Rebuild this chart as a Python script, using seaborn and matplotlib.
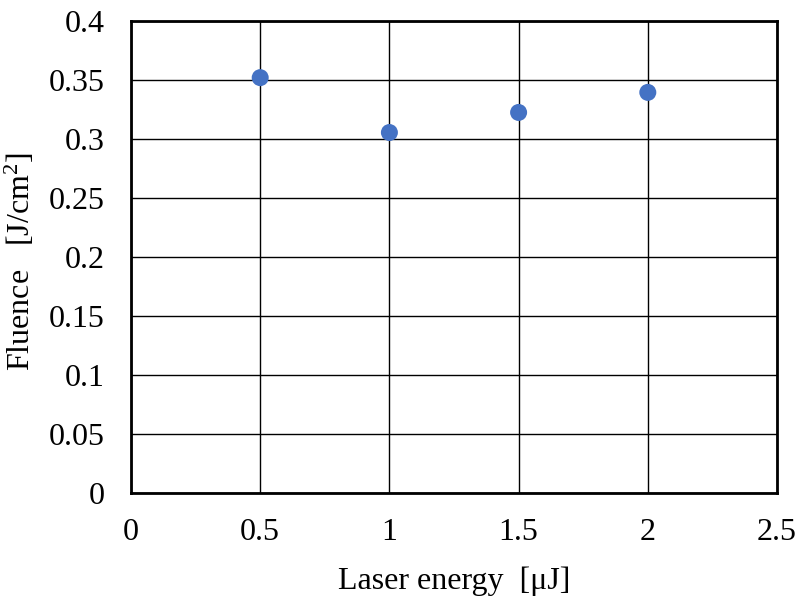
import matplotlib
matplotlib.use("Agg")
import matplotlib.pyplot as plt
import seaborn as sns
import pandas as pd

# data
laser_energy = [0.5, 1.0, 1.5, 2.0]
fluence = [0.352, 0.3055, 0.3225, 0.3395]
x_ticks = [0, 0.5, 1, 1.5, 2, 2.5]
x_tick_labels = ["0", "0.5", "1", "1.5", "2", "2.5"]
y_ticks = [0, 0.05, 0.1, 0.15, 0.2, 0.25, 0.3, 0.35, 0.4]
y_tick_labels = ["0", "0.05", "0.1", "0.15", "0.2", "0.25", "0.3", "0.35", "0.4"]

sns.set_style("white")
plt.rcParams['font.family'] = ['Liberation Serif', 'DejaVu Serif']
plt.rcParams['mathtext.fontset'] = 'custom'
plt.rcParams['mathtext.rm'] = 'Liberation Serif'
plt.rcParams['mathtext.default'] = 'rm'
plt.rcParams['text.color'] = 'black'
plt.rcParams['axes.labelcolor'] = 'black'

df = pd.DataFrame({"energy": laser_energy, "fluence": fluence})

fig = plt.figure(figsize=(8.01, 6.01), dpi=100)
ax = fig.add_axes([131 / 801, 108 / 601, (777 - 131) / 801, (493 - 21) / 601])

sns.scatterplot(data=df, x="energy", y="fluence", ax=ax, color="#4472C4",
                s=150, edgecolor="none", zorder=3)

ax.set_xlim(0, 2.5)
ax.set_ylim(0, 0.4)
ax.set_xticks(x_ticks)
ax.set_xticklabels(x_tick_labels)
ax.set_yticks(y_ticks)
ax.set_yticklabels(y_tick_labels)
ax.grid(True, color="black", linewidth=1.0)
ax.set_axisbelow(True)
for s in ax.spines.values():
    s.set_color("black")
    s.set_linewidth(2)
ax.tick_params(axis="both", length=0, labelsize=23, colors="black")
ax.tick_params(axis="x", pad=18)
ax.tick_params(axis="y", pad=19)

ax.set_xlabel("Laser energy  [\u03bcJ]", fontsize=23, labelpad=14)
ax.set_ylabel("Fluence   [J/cm$^{2}$]", fontsize=23)
ax.yaxis.set_label_coords(-0.146, 0.49)

fig.savefig("out.png", dpi=100)
